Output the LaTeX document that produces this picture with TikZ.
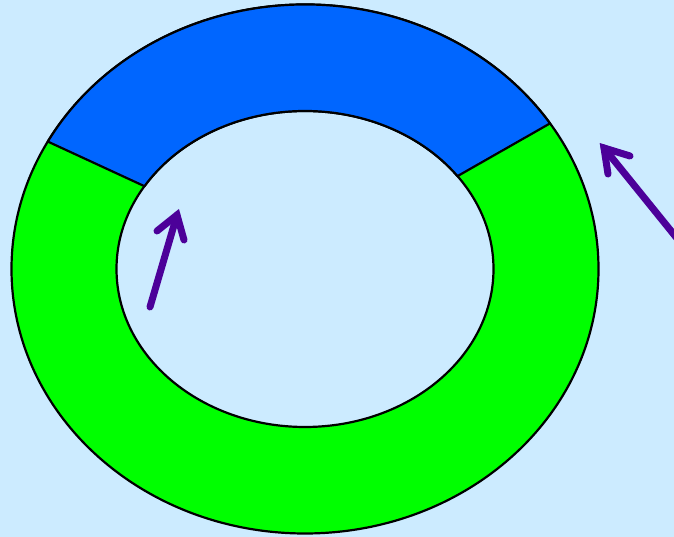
\documentclass[tikz,border=0pt]{standalone}
\usetikzlibrary{calc}
\definecolor{bgblue}{RGB}{204,235,255}
\definecolor{ringblue}{RGB}{0,102,255}
\definecolor{ringgreen}{RGB}{0,255,0}
\definecolor{arrowpurple}{RGB}{76,0,153}
\begin{document}
\begin{tikzpicture}[x=1pt,y=1pt,
  ringline/.style={draw=black,line width=2.2pt,line join=round},
  arrowline/.style={draw=arrowpurple,line width=7pt,line cap=round,line join=miter}]
\fill[bgblue] (0,0) rectangle (674,537);
\useasboundingbox (0,0) rectangle (674,537);
\clip (0,0) rectangle (674,537);
\coordinate (c) at (305,268);
% green ring
\path[fill=ringgreen, even odd rule, ringline]
  (c) ellipse [x radius=293.5, y radius=264.5]
  (c) ellipse [x radius=188.5, y radius=158]
  ;
% blue segment
\coordinate (oL) at ($(c)+(151.2:293.5 and 264.5)$);
\coordinate (iR) at ($(c)+(36:188.5 and 158)$);
\path[fill=ringblue, ringline]
  (oL) arc [start angle=151.2, end angle=33.4, x radius=293.5, y radius=264.5]
  -- (iR) arc [start angle=36, end angle=148.4, x radius=188.5, y radius=158]
  -- cycle;
% arrow 1
\coordinate (a1tail) at (150,230);
\coordinate (a1tip) at (177,322);
\coordinate (a1b1) at (157,306);
\coordinate (a1b2) at (184,297);
\draw[arrowline] (a1tail) -- (a1tip);
\draw[arrowline] (a1b1) -- (a1tip) -- (a1b2);
% arrow 2
\coordinate (a2tail) at (684,290);
\coordinate (a2tip) at (604,389);
\coordinate (a2b1) at (630,381);
\coordinate (a2b2) at (608,363);
\draw[arrowline] (a2tail) -- (a2tip);
\draw[arrowline] (a2b1) -- (a2tip) -- (a2b2);
\end{tikzpicture}
\end{document}
